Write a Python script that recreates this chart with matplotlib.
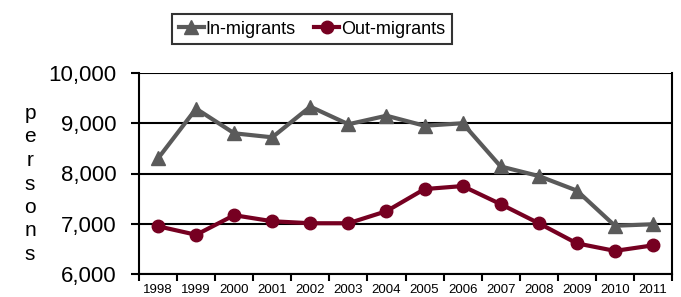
import matplotlib
matplotlib.use("Agg")
import matplotlib.pyplot as plt
import numpy as np

years = ["1998", "1999", "2000", "2001", "2002", "2003", "2004",
         "2005", "2006", "2007", "2008", "2009", "2010", "2011"]
in_migrants = [8300, 9290, 8800, 8720, 9330, 8980, 9150,
               8950, 9000, 8140, 7950, 7660, 6960, 6990]
out_migrants = [6950, 6780, 7170, 7050, 7010, 7010, 7250,
                7690, 7750, 7390, 7010, 6610, 6460, 6570]
yticks = [6000, 7000, 8000, 9000, 10000]

plt.rcParams['font.family'] = ['Liberation Sans', 'DejaVu Sans']

fig = plt.figure(figsize=(6.81, 2.97), dpi=100)
ax = fig.add_axes([139/681, 1 - 274/297, (672-139)/681, (274-73)/297])

x = np.arange(len(years))
gray = "#5a5a5a"
maroon = "#760021"
ax.plot(x, in_migrants, color=gray, lw=3, marker="^", ms=10, label="In-migrants", zorder=3)
ax.plot(x, out_migrants, color=maroon, lw=3, marker="o", ms=9, label="Out-migrants", zorder=3)

ax.set_xlim(-0.5, len(years) - 0.5)
ax.set_ylim(6000, 10000)
ax.set_yticks(yticks)
ax.set_yticklabels([f"{v:,}" for v in yticks], fontsize=16)
ax.set_xticks(np.arange(len(years) + 1) - 0.5, minor=False)
ax.set_xticklabels([])
ax.set_xticks(x, minor=True)
ax.set_xticklabels(years, minor=True, fontsize=9.5)
ax.tick_params(axis="x", which="minor", length=0, pad=7)
ax.tick_params(axis="x", which="major", length=5, width=1.5, direction="out")
ax.tick_params(axis="y", length=6, width=1.5, direction="out", pad=10)
ax.grid(axis="y", color="black", lw=1.5)
ax.set_axisbelow(True)
for s in ax.spines.values():
    s.set_linewidth(1.5)
ax.spines["top"].set_visible(False)

fig.text(30/681, 1 - 184/297, "\n".join("persons"), fontsize=15, ha="center", va="center",
         linespacing=1.3)

leg = fig.legend(loc="center", bbox_to_anchor=(312/681, 1 - 29/297), ncol=2, frameon=True,
                 fancybox=False, edgecolor="black", prop={"size": 13},
                 handlelength=1.4, handletextpad=0.1, columnspacing=1.0, borderpad=0.35,
                 borderaxespad=0)
leg.get_frame().set_linewidth(1.5)

fig.savefig("out.png", dpi=100)
